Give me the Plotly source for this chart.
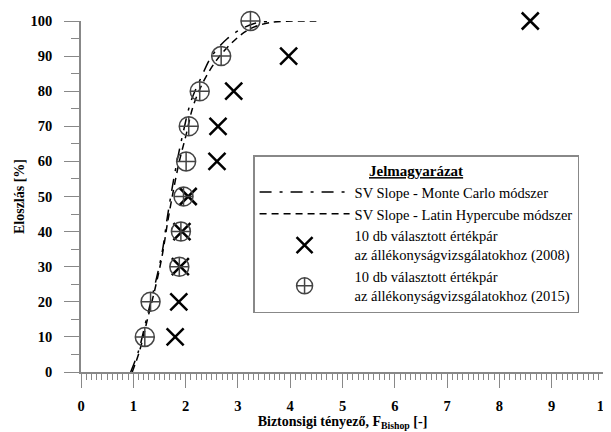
import plotly.graph_objects as go

# Data
levels = [10, 20, 30, 40, 50, 60, 70, 80, 90, 100]
x_2008 = [1.80, 1.87, 1.90, 1.93, 2.05, 2.60, 2.62, 2.92, 3.97, 8.59]
x_2015 = [1.22, 1.33, 1.88, 1.91, 1.96, 2.01, 2.06, 2.27, 2.68, 3.24]

mc_x = [0.95, 1.10, 1.25, 1.40, 1.55, 1.65, 1.75, 1.85, 1.95, 2.10, 2.30, 2.50, 2.80, 3.10, 3.40, 3.80]
mc_y = [0, 6, 15, 24, 34, 44, 53, 61, 68, 77, 84, 90, 95, 98, 99.6, 100]
lhs_x = [0.98, 1.12, 1.27, 1.42, 1.55, 1.66, 1.77, 1.88, 2.00, 2.15, 2.35, 2.60, 2.90, 3.20, 3.60, 4.50]
lhs_y = [0, 6, 15, 24, 33, 43, 52, 60, 67, 76, 83, 89, 94, 97.5, 99.5, 100]

x_ticks = list(range(0, 11))
y_ticks = list(range(0, 101, 10))

SERIF = "Liberation Serif, Times New Roman, serif"

fig = go.Figure()
fig.add_trace(go.Scatter(
    x=mc_x, y=mc_y, mode="lines", line_shape="spline",
    name="SV Slope - Monte Carlo módszer",
    line=dict(color="black", width=1.5, dash="12px,8px,3px,8px")))
fig.add_trace(go.Scatter(
    x=lhs_x, y=lhs_y, mode="lines", line_shape="spline",
    name="SV Slope - Latin Hypercube módszer",
    line=dict(color="black", width=1.5, dash="7px,5px")))
fig.add_trace(go.Scatter(
    x=x_2008, y=levels, mode="markers", cliponaxis=False,
    name="10 db választott értékpár<br>az állékonyságvizsgálatokhoz (2008)",
    marker=dict(symbol="x-thin", size=17, color="black",
                line=dict(color="black", width=2.5))))
fig.add_trace(go.Scatter(
    x=x_2015, y=levels, mode="markers", cliponaxis=False,
    name="10 db választott értékpár<br>az állékonyságvizsgálatokhoz (2015)",
    marker=dict(symbol="circle-cross-open", size=19, color="#444",
                line=dict(color="#444", width=1.5))))

# page body adds an 8px offset; figure sized/margined to compensate
fig.update_layout(
    width=603, height=424,
    margin=dict(l=73, r=7, t=13, b=60),
    paper_bgcolor="white", plot_bgcolor="white",
    font=dict(family=SERIF, size=12, color="black"),
    showlegend=True,
    legend=dict(
        x=0.329, y=0.618, xanchor="left", yanchor="top",
        bgcolor="white", bordercolor="#888", borderwidth=1.5,
        font=dict(family=SERIF, size=14.5, color="black"),
        title=dict(text="<b><u>Jelmagyarázat</u></b>", side="top center",
                   font=dict(family=SERIF, size=15, color="black")),
        itemwidth=90, tracegroupgap=0,
    ),
)
fig.update_xaxes(
    range=[0, 10], tickvals=x_ticks, ticktext=[str(v) for v in x_ticks],
    showline=True, linecolor="#888", linewidth=1.5,
    ticks="outside", ticklen=14, tickcolor="#888", tickwidth=1.2,
    minor=dict(dtick=0.1, ticks="outside", ticklen=6, tickcolor="#888", tickwidth=1),
    showgrid=False, zeroline=False, ticklabelstandoff=6, automargin=False,
    ticklabeloverflow="allow",
    tickfont=dict(family=SERIF, size=14.5, color="black", weight="bold"),
    title=dict(text="<b>Biztonsigi tényező, F<sub>Bishop</sub> [-]</b>",
               font=dict(family=SERIF, size=14, color="black"), standoff=2),
)
fig.update_yaxes(
    range=[0, 100], tickvals=y_ticks, ticktext=[str(v) for v in y_ticks],
    showline=True, linecolor="#888", linewidth=1.5,
    ticks="outside", ticklen=15, tickcolor="#888", tickwidth=1.2,
    minor=dict(dtick=5, ticks="outside", ticklen=8, tickcolor="#888", tickwidth=1),
    showgrid=False, zeroline=False, ticklabelstandoff=9, automargin=False,
    tickfont=dict(family=SERIF, size=14.5, color="black", weight="bold"),
    title=dict(text="<b>Eloszlás [%]</b>",
               font=dict(family=SERIF, size=14, color="black"), standoff=3),
)

fig.write_html("out.html")
